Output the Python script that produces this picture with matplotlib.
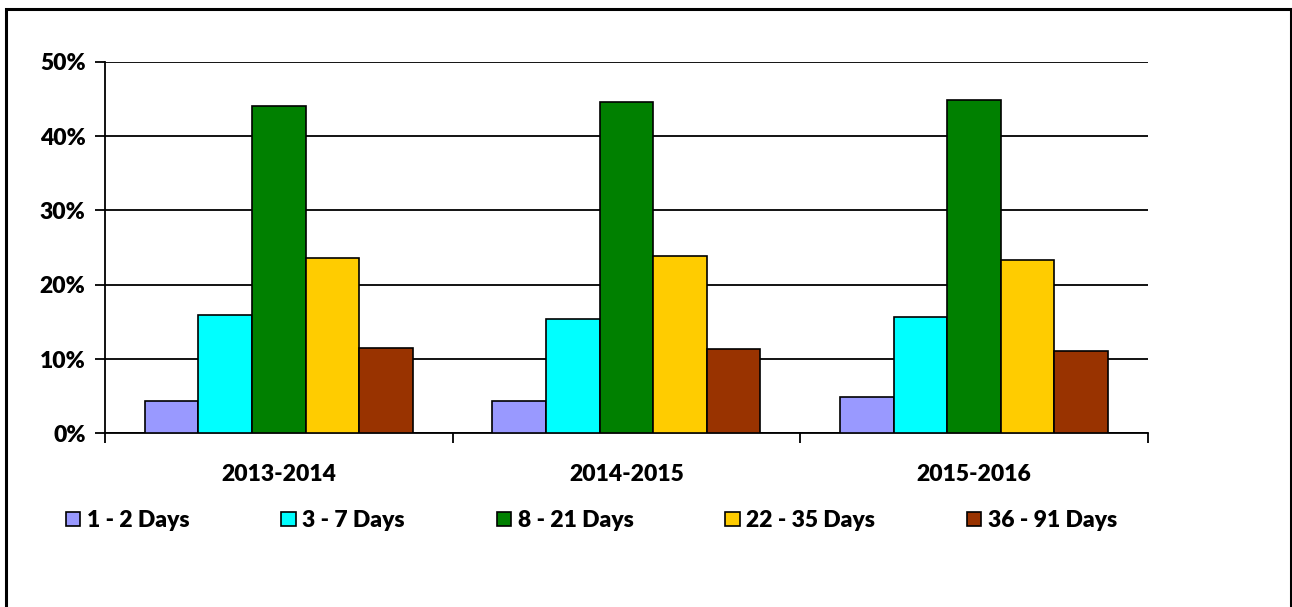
import matplotlib
matplotlib.use("Agg")
from matplotlib import pyplot as plt
from matplotlib.patches import Rectangle
import numpy as np

plt.rcParams['font.family'] = ['Lato', 'DejaVu Sans']
plt.rcParams['font.weight'] = 'heavy'

seasons = ["2013-2014", "2014-2015", "2015-2016"]
labels = ["1 - 2 Days", "3 - 7 Days", "8 - 21 Days", "22 - 35 Days", "36 - 91 Days"]
colors = ["#9999FF", "#00FFFF", "#008000", "#FFCC00", "#993300"]

days_1_2 = [4.35, 4.35, 4.9]
days_3_7 = [15.9, 15.35, 15.65]
days_8_21 = [44.1, 44.65, 44.9]
days_22_35 = [23.65, 23.9, 23.4]
days_36_91 = [11.5, 11.3, 11.05]
series = [days_1_2, days_3_7, days_8_21, days_22_35, days_36_91]

fs = 16.5
fig = plt.figure(figsize=(12.92, 6.07), dpi=100)
ax = fig.add_axes([0.0813, 0.2862, 0.8070, 0.6117])

x = np.arange(len(seasons))
w = 0.771 / 5
for i, (vals, lab, col) in enumerate(zip(series, labels, colors)):
    ax.bar(x + (i - 2) * w, vals, w, color=col, edgecolor="black",
           linewidth=1.2, label=lab, zorder=3)

ax.set_ylim(0, 50)
ax.set_xlim(-0.5, 2.5)
ax.set_yticks(range(0, 51, 10))
ax.set_yticklabels([f"{v}%" for v in range(0, 51, 10)], fontsize=fs, fontweight="heavy")
ax.yaxis.grid(True, color="black", linewidth=1.3, zorder=0)
ax.tick_params(axis="y", length=7, width=1.3, pad=7, color="black")

ax.set_xticks([-0.5, 0.5, 1.5, 2.5])
ax.set_xticklabels([])
ax.set_xticks(x, minor=True)
ax.set_xticklabels(seasons, minor=True, fontsize=fs, fontweight="heavy")
ax.tick_params(axis="x", which="major", length=7, width=1.3, direction="out")
ax.tick_params(axis="x", which="minor", length=0, pad=22)

for s in ["top", "right"]:
    ax.spines[s].set_visible(False)
ax.spines["left"].set_linewidth(1.3)
ax.spines["bottom"].set_linewidth(1.3)

leg = fig.legend(loc="center", bbox_to_anchor=(0.458, 1 - 520.6 / 607), ncol=5,
                 frameon=False, fontsize=fs, handlelength=0.62, handleheight=0.62,
                 handletextpad=0.3, columnspacing=4.0, borderaxespad=0)
for t in leg.get_texts():
    t.set_fontweight("heavy")

fig.patches.append(Rectangle((5.5 / 1292, -0.1), (1290.5 - 5.5) / 1292, 1.1 - 9.3 / 607,
                             transform=fig.transFigure, fill=False, edgecolor="black",
                             linewidth=2.2, clip_on=False))

fig.savefig("out.png", dpi=100)
